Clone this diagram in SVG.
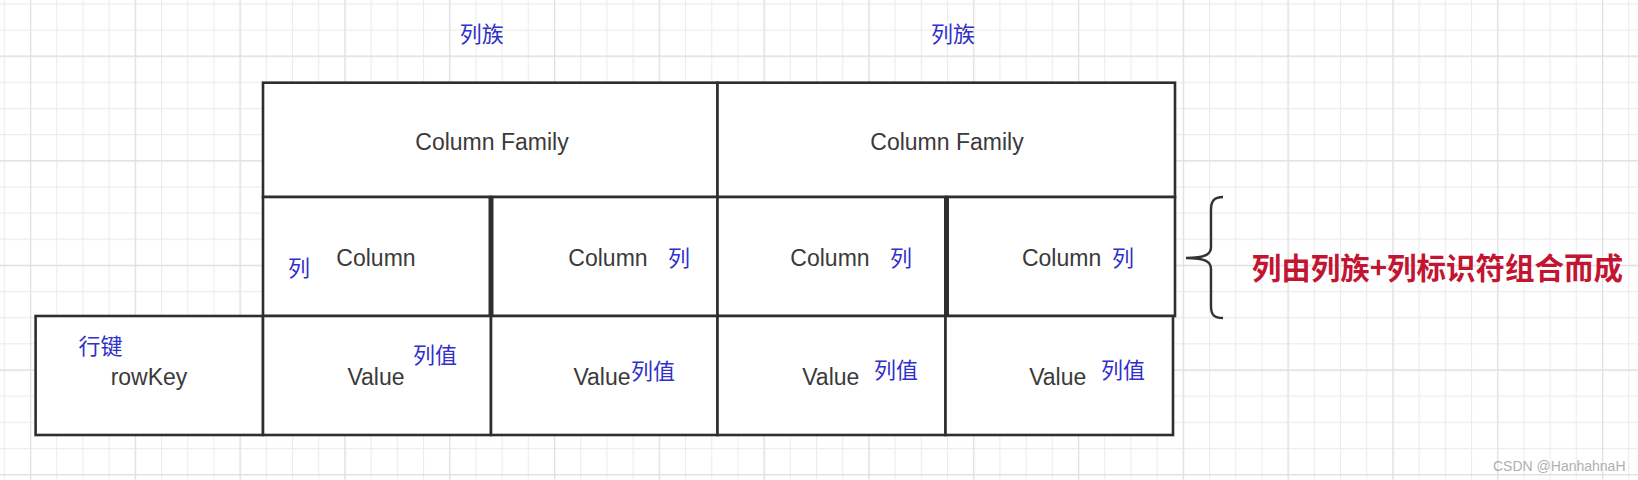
<svg xmlns="http://www.w3.org/2000/svg" width="1638" height="480" viewBox="0 0 1638 480">
<defs>
<pattern id="minor" x="30" y="3.3" width="26.2" height="26.15" patternUnits="userSpaceOnUse">
<path d="M0.5 0 V26.15 M0 0.5 H26.2" fill="none" stroke="#ececec" stroke-width="1.2"/>
</pattern>
<pattern id="major" x="30" y="55.6" width="104.8" height="104.6" patternUnits="userSpaceOnUse">
<path d="M0.5 0 V104.6 M0 0.5 H104.8" fill="none" stroke="#e0e0e0" stroke-width="1.4"/>
</pattern>
<style>
.cell{fill:#ffffff;stroke:#2e2e2e;stroke-width:2.6}
.thick{stroke:#2e2e2e;stroke-width:5;fill:none}
.en{font-family:"Liberation Sans",Arial,sans-serif;font-size:23px;fill:#3a3a3a;text-anchor:middle}
.cn{font-family:"Noto Sans CJK SC",sans-serif;font-size:22px;fill:#3030c8}
.red{font-family:"Noto Sans CJK SC",sans-serif;font-size:29.5px;font-weight:bold;fill:#c31532}
.wm{font-family:"Liberation Sans",Arial,sans-serif;font-size:14px;fill:#b0b0b0}
</style>
</defs>
<rect width="1638" height="480" fill="#ffffff"/>
<rect width="1638" height="480" fill="url(#minor)"/>
<rect width="1638" height="480" fill="url(#major)"/>

<text class="cn" x="481.7" y="42" text-anchor="middle">列族</text>
<text class="cn" x="953" y="42" text-anchor="middle">列族</text>

<g id="cf1"><rect class="cell" x="263" y="82.7" width="454.5" height="114.3"/><text class="en" x="492" y="149.5">Column Family</text></g>
<g id="cf2"><rect class="cell" x="717.5" y="82.7" width="457.5" height="114.3"/><text class="en" x="947" y="149.5">Column Family</text></g>

<g id="col1"><rect class="cell" x="263" y="197" width="228" height="119"/><text class="en" x="376" y="266">Column</text><text class="cn" x="288" y="276">列</text></g>
<g id="col2"><rect class="cell" x="491" y="197" width="226.5" height="119"/><text class="en" x="608" y="266">Column</text><text class="cn" x="668" y="266">列</text></g>
<g id="col3"><rect class="cell" x="717.5" y="197" width="229" height="119"/><text class="en" x="830" y="266">Column</text><text class="cn" x="890" y="266">列</text></g>
<g id="col4"><rect class="cell" x="946.5" y="197" width="228.5" height="119"/><text class="en" x="1061.6" y="266">Column</text><text class="cn" x="1112" y="266">列</text></g>

<g id="rowkey"><rect class="cell" x="35.6" y="316" width="227.4" height="119"/><text class="en" x="149" y="385">rowKey</text><text class="cn" x="78.5" y="354">行键</text></g>
<g id="val1"><rect class="cell" x="263" y="316" width="228" height="119"/><text class="en" x="376" y="385">Value</text><text class="cn" x="413" y="363">列值</text></g>
<g id="val2"><rect class="cell" x="491" y="316" width="226.5" height="119"/><text class="en" x="602" y="385">Value</text><text class="cn" x="631" y="379">列值</text></g>
<g id="val3"><rect class="cell" x="717.5" y="316" width="228" height="119"/><text class="en" x="830.8" y="385">Value</text><text class="cn" x="874" y="378">列值</text></g>
<g id="val4"><rect class="cell" x="945.5" y="316" width="227.5" height="119"/><text class="en" x="1057.7" y="385">Value</text><text class="cn" x="1101" y="378">列值</text></g>

<g id="connectors">
<line class="thick" x1="491" y1="197" x2="491" y2="316"/>
<line class="thick" x1="946.5" y1="197" x2="946.5" y2="316"/>
<path d="M1223,197 C1214,197 1211,201 1211,210 L1211,247 C1211,254 1206,258 1186,258 C1206,258 1211,262 1211,269 L1211,306 C1211,315 1214,318 1223,318" fill="none" stroke="#333333" stroke-width="2.4"/>
</g>

<g id="note"><text class="red" x="1251.7" y="279">列由列族+列标识符组合而成</text></g>
<text class="wm" x="1493" y="471">CSDN @HanhahnaH</text>
</svg>
